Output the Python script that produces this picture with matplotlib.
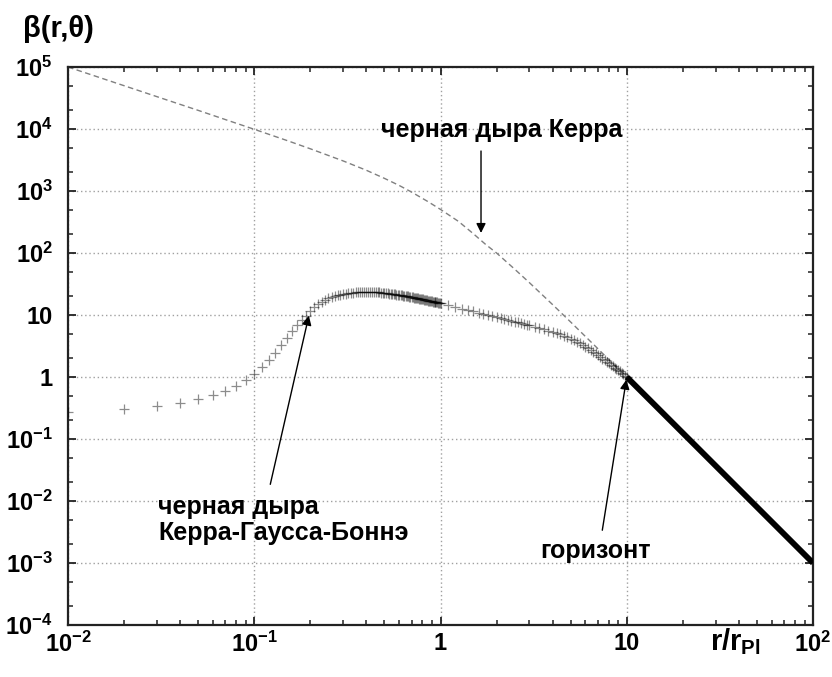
import numpy as np
import matplotlib
matplotlib.use('Agg')
from matplotlib import pyplot as plt
from matplotlib.ticker import LogLocator, FixedLocator, FixedFormatter, NullFormatter

plt.rcParams['font.family'] = ['Liberation Sans', 'DejaVu Sans']
plt.rcParams['font.weight'] = 'bold'
plt.rcParams['mathtext.fontset'] = 'custom'
plt.rcParams['mathtext.rm'] = 'Liberation Sans:bold'
plt.rcParams['mathtext.it'] = 'Liberation Sans:bold'
plt.rcParams['mathtext.bf'] = 'Liberation Sans:bold'

# Kerr black hole (dashed curve)
kerr_x = [0.01, 0.02, 0.03, 0.05, 0.07, 0.1, 0.15, 0.2, 0.3, 0.4, 0.5, 0.6, 0.7, 0.85, 1.0,
          1.25, 1.5, 1.75, 2.0, 2.5, 3.0, 4.0, 5.0, 6.0, 7.0, 8.5, 10.0, 20.0, 50.0, 100.0]
kerr_y = [1.0e5, 5.0e4, 3.33e4, 2.0e4, 1.42e4, 9.9e3, 6.52e3, 4.8e3, 3.06e3, 2.16e3, 1.6e3,
          1.23e3, 960, 684, 505, 323, 205, 137, 100, 55, 33.3, 14.7, 7.7, 4.5, 2.86, 1.6,
          0.99, 0.125, 0.008, 0.001]

# Kerr-Gauss-Bonnet black hole (+ markers)
kgb_x1 = [0.01, 0.02, 0.03, 0.04, 0.05, 0.06, 0.07, 0.08, 0.09, 0.10,
          0.11, 0.12, 0.13, 0.14, 0.15, 0.16, 0.17, 0.18, 0.19, 0.20,
          0.21, 0.22, 0.23, 0.24, 0.25, 0.26, 0.27, 0.28, 0.29, 0.30,
          0.31, 0.32, 0.33, 0.34, 0.35, 0.36, 0.37, 0.38, 0.39, 0.40,
          0.41, 0.42, 0.43, 0.44, 0.45, 0.46, 0.47, 0.48, 0.49, 0.50,
          0.51, 0.52, 0.53, 0.54, 0.55, 0.56, 0.57, 0.58, 0.59, 0.60,
          0.61, 0.62, 0.63, 0.64, 0.65, 0.66, 0.67, 0.68, 0.69, 0.70,
          0.71, 0.72, 0.73, 0.74, 0.75, 0.76, 0.77, 0.78, 0.79, 0.80,
          0.81, 0.82, 0.83, 0.84, 0.85, 0.86, 0.87, 0.88, 0.89, 0.90,
          0.91, 0.92, 0.93, 0.94, 0.95, 0.96, 0.97, 0.98, 0.99, 1.00]
kgb_y1 = [0.27, 0.305, 0.34, 0.38, 0.44, 0.51, 0.59, 0.72, 0.90, 1.12,
          1.45, 1.88, 2.44, 3.3, 4.27, 5.5, 6.8, 8.2, 9.8, 11.8,
          13.6, 15.0, 16.3, 17.5, 18.5, 19.4, 20.1, 20.8, 21.3, 21.8,
          22.1, 22.5, 22.8, 23.0, 23.2, 23.3, 23.4, 23.5, 23.5, 23.5,
          23.5, 23.5, 23.4, 23.4, 23.3, 23.2, 23.1, 23.0, 22.8, 22.7,
          22.5, 22.4, 22.2, 22.1, 21.9, 21.8, 21.6, 21.4, 21.2, 21.0,
          20.9, 20.7, 20.5, 20.4, 20.2, 20.0, 19.9, 19.7, 19.5, 19.4,
          19.2, 19.1, 18.9, 18.8, 18.6, 18.5, 18.3, 18.2, 18.0, 17.9,
          17.8, 17.6, 17.5, 17.4, 17.2, 17.1, 17.0, 16.9, 16.7, 16.6,
          16.5, 16.4, 16.3, 16.2, 16.1, 16.0, 15.9, 15.8, 15.7, 15.6]
kgb_x2 = [1.1, 1.2, 1.3, 1.4, 1.5, 1.6, 1.7, 1.8, 1.9, 2.0,
          2.1, 2.2, 2.3, 2.4, 2.5, 2.6, 2.7, 2.8, 2.9, 3.0,
          3.2, 3.4, 3.6, 3.8, 4.0, 4.2, 4.4, 4.6, 4.8, 5.0,
          5.2, 5.4, 5.6, 5.8, 6.0, 6.2, 6.4, 6.6, 6.8, 7.0,
          7.2, 7.4, 7.6, 7.8, 8.0, 8.2, 8.4, 8.6, 8.8, 9.0,
          9.2, 9.4, 9.6, 9.8, 10.0]
kgb_y2 = [14.5, 13.5, 12.7, 12.0, 11.4, 10.9, 10.4, 10.0, 9.6, 9.2,
          8.9, 8.6, 8.3, 8.1, 7.8, 7.6, 7.4, 7.2, 7.0, 6.8,
          6.5, 6.2, 5.9, 5.6, 5.35, 5.1, 4.85, 4.6, 4.35, 4.1,
          3.9, 3.7, 3.5, 3.3, 3.1, 2.9, 2.72, 2.55, 2.4, 2.25,
          2.1, 1.98, 1.86, 1.76, 1.68, 1.59, 1.50, 1.42, 1.35, 1.29,
          1.23, 1.17, 1.11, 1.05, 1.0]
# beyond the horizon the markers merge into a solid black line
kgb_tail_x = [10.0, 20.0, 50.0, 100.0]
kgb_tail_y = [1.0, 0.125, 0.008, 0.001]

x_ticks = [0.01, 0.1, 1, 10, 100]
x_tick_labels = ['$10^{-2}$', '$10^{-1}$', '1', '10', '$10^{2}$']
y_ticks = [1e-4, 1e-3, 1e-2, 1e-1, 1, 10, 1e2, 1e3, 1e4, 1e5]
y_tick_labels = ['$10^{-4}$', '$10^{-3}$', '$10^{-2}$', '$10^{-1}$', '1', '10',
                 '$10^{2}$', '$10^{3}$', '$10^{4}$', '$10^{5}$']

fig = plt.figure(figsize=(8.32, 6.77), dpi=100)
ax = fig.add_axes([0.0817, 0.0768, 0.8955, 0.8242])
ax.set_xscale('log')
ax.set_yscale('log')
ax.set_xlim(0.01, 100)
ax.set_ylim(1e-4, 1e5)

ax.plot(kerr_x, kerr_y, color='0.5', lw=1.0, dashes=(4, 2.5), zorder=2)
ax.plot(kgb_x1 + kgb_x2, kgb_y1 + kgb_y2, ls='none', marker='+', ms=7, mew=0.9,
        color='k', alpha=0.45, zorder=3)
ax.plot(kgb_tail_x, kgb_tail_y, color='k', lw=4.2, solid_capstyle='butt', zorder=3)

ax.xaxis.set_major_locator(FixedLocator(x_ticks))
ax.xaxis.set_major_formatter(FixedFormatter(x_tick_labels))
ax.xaxis.set_minor_locator(LogLocator(base=10, subs=np.arange(2, 10)))
ax.xaxis.set_minor_formatter(NullFormatter())
ax.yaxis.set_major_locator(FixedLocator(y_ticks))
ax.yaxis.set_major_formatter(FixedFormatter(y_tick_labels))
ax.yaxis.set_minor_locator(LogLocator(base=10, subs=(2, 5)))
ax.yaxis.set_minor_formatter(NullFormatter())

ax.tick_params(which='both', direction='in', top=True, right=True, color='#222222')
ax.tick_params(which='major', length=6, width=1.3, labelsize=17)
ax.tick_params(which='minor', length=3.5, width=1.1)
ax.tick_params(axis='x', which='major', pad=5)
ax.tick_params(axis='y', which='major', pad=11)
for s in ax.spines.values():
    s.set_linewidth(1.6)
    s.set_color('#222222')

ax.grid(True, which='major', color='#a0a0a0', lw=1.0, linestyle=(0, (1, 2)))

# annotations
ax.text(2.14, 9600, 'черная дыра Керра', fontsize=18, fontweight='bold',
        ha='center', va='center')
ax.annotate('', xy=(1.65, 190), xytext=(1.65, 4900),
            arrowprops=dict(arrowstyle='-|>', color='black', lw=1.0, mutation_scale=14))

ax.text(0.0304, 0.00494, 'черная дыра\nКерра-Гаусса-Боннэ', fontsize=18,
        fontweight='bold', ha='left', va='center', linespacing=1.15)
ax.annotate('', xy=(0.198, 10.8), xytext=(0.121, 0.0168),
            arrowprops=dict(arrowstyle='-|>', color='black', lw=1.0, mutation_scale=14))

ax.text(6.82, 0.00156, 'горизонт', fontsize=18, fontweight='bold',
        ha='center', va='center')
ax.annotate('', xy=(10, 1.0), xytext=(7.35, 0.00305),
            arrowprops=dict(arrowstyle='-|>', color='black', lw=1.0, mutation_scale=14))

fig.text(0.0276, 0.957, 'β(r,θ)', fontsize=21, fontweight='bold', ha='left', va='center')
fig.text(0.853, 0.040, '$r/r_{Pl}$', fontsize=21, ha='left', va='baseline')

fig.savefig('out.png', dpi=100)
